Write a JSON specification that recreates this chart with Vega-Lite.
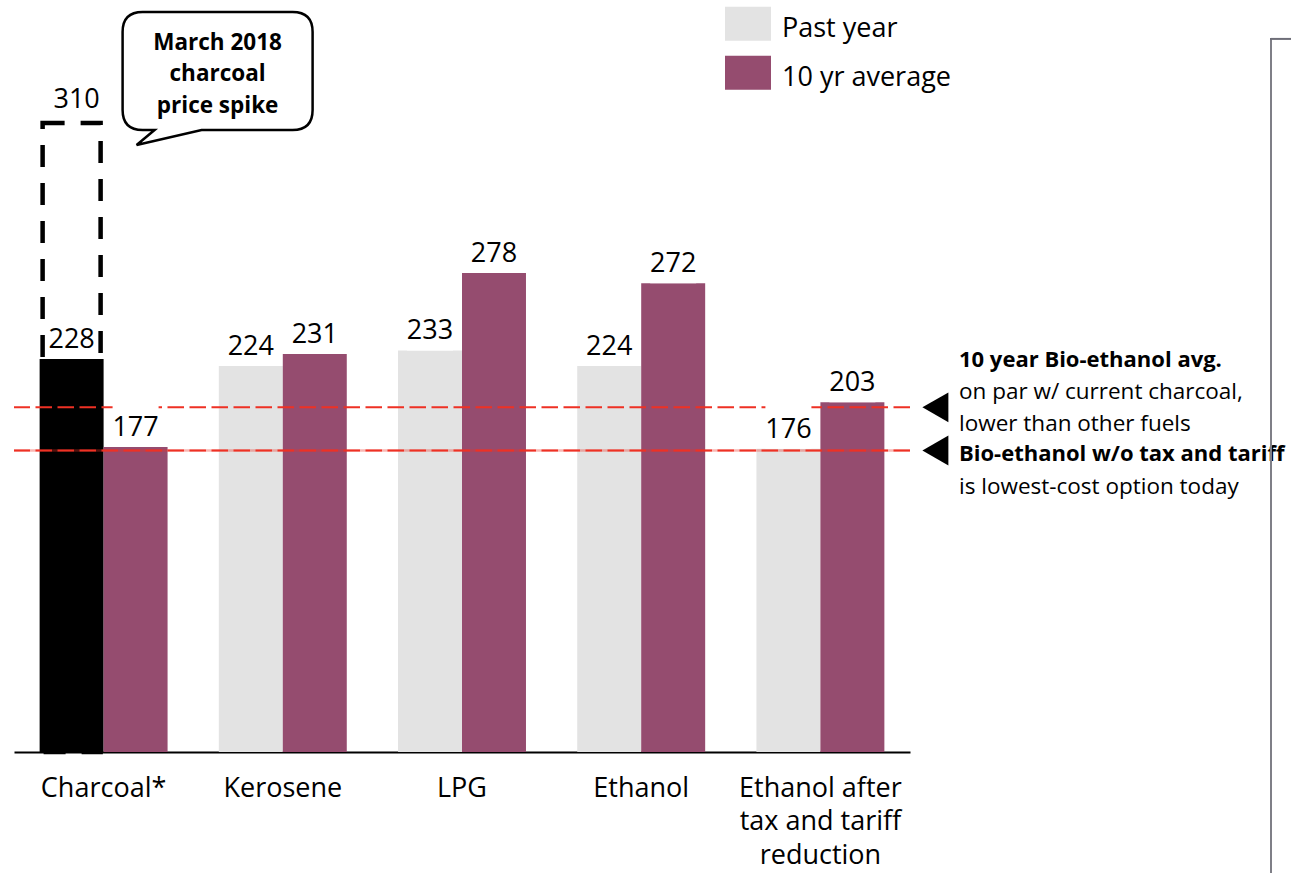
{
  "$schema": "https://vega.github.io/schema/vega-lite/v6.json",
  "width": 896,
  "height": 741,
  "autosize": {"type": "none"},
  "padding": {"left": 14, "top": 11, "right": 381, "bottom": 121},
  "background": "white",
  "config": {
    "view": {"stroke": null},
    "font": "Open Sans",
    "axisY": {"disable": true},
    "axisX": {
      "domainColor": "#000000",
      "domainWidth": 2,
      "ticks": false,
      "tickSize": 0,
      "grid": false,
      "labelFont": "Open Sans",
      "labelFontSize": 27,
      "labelColor": "#000000",
      "labelPadding": 23,
      "labelLineHeight": 33.5,
      "labelLimit": 0,
      "labelAngle": 0
    }
  },
  "datasets": {
    "bars": [
      {"fuel": "Charcoal*", "series": "Past year", "value": 228},
      {"fuel": "Charcoal*", "series": "10 yr average", "value": 177},
      {"fuel": "Kerosene", "series": "Past year", "value": 224},
      {"fuel": "Kerosene", "series": "10 yr average", "value": 231},
      {"fuel": "LPG", "series": "Past year", "value": 233},
      {"fuel": "LPG", "series": "10 yr average", "value": 278},
      {"fuel": "Ethanol", "series": "Past year", "value": 224},
      {"fuel": "Ethanol", "series": "10 yr average", "value": 272},
      {"fuel": "Ethanol after tax and tariff reduction", "series": "Past year", "value": 176},
      {"fuel": "Ethanol after tax and tariff reduction", "series": "10 yr average", "value": 203}
    ],
    "spike": [
      {"fuel": "Charcoal*", "series": "Past year", "label": "310", "box_top": 365}
    ],
    "refs": [
      {"line": "10 year Bio-ethanol avg.", "value": 200},
      {"line": "Bio-ethanol w/o tax and tariff", "value": 175}
    ],
    "one": [{}]
  },
  "layer": [
    {
      "data": {"name": "spike"},
      "mark": {"type": "bar", "fillOpacity": 0, "stroke": "#000000", "strokeWidth": 4.5, "strokeDash": [22, 16], "width": 58, "xOffset": -1},
      "encoding": {
        "x": {"field": "fuel", "type": "nominal", "title": null, "scale": {"domain": ["Charcoal*", "Kerosene", "LPG", "Ethanol", "Ethanol after tax and tariff reduction"], "paddingInner": 0.286, "paddingOuter": 0.143}},
        "xOffset": {"field": "series", "type": "nominal", "scale": {"domain": ["Past year", "10 yr average"], "paddingInner": 0, "paddingOuter": 0}},
        "y": {"field": "box_top", "type": "quantitative", "scale": {"domain": [0, 430], "nice": false, "zero": true}, "axis": null}
      }
    },
    {
      "data": {"name": "bars"},
      "mark": {"type": "bar"},
      "encoding": {
        "x": {"field": "fuel", "type": "nominal", "title": null, "scale": {"domain": ["Charcoal*", "Kerosene", "LPG", "Ethanol", "Ethanol after tax and tariff reduction"], "paddingInner": 0.286, "paddingOuter": 0.143},
          "axis": {"title": null, "labelExpr": "datum.value == 'Ethanol after tax and tariff reduction' ? ['Ethanol after', 'tax and tariff', 'reduction'] : datum.label"}},
        "xOffset": {"field": "series", "type": "nominal", "scale": {"domain": ["Past year", "10 yr average"], "paddingInner": 0, "paddingOuter": 0}},
        "y": {"field": "value", "type": "quantitative", "scale": {"domain": [0, 430], "nice": false, "zero": true}, "axis": null},
        "color": {
          "field": "series",
          "type": "nominal",
          "scale": {"domain": ["Past year", "10 yr average"], "range": ["#E3E3E3", "#954C6F"]},
          "condition": {"test": "datum.fuel === 'Charcoal*' && datum.series === 'Past year'", "value": "#000000"},
          "legend": {
            "orient": "none",
            "legendX": 711,
            "legendY": -5.4,
            "title": null,
            "padding": 0,
            "symbolType": "M-1,-0.95H1V0.53H-1Z",
            "symbolSize": 2116,
            "symbolStrokeWidth": 0,
            "symbolOpacity": 1,
            "labelFont": "Open Sans",
            "labelFontSize": 27,
            "labelColor": "#000000",
            "labelOffset": 11,
            "labelLimit": 0,
            "rowPadding": 13
          }
        }
      }
    },
    {
      "data": {"name": "refs"},
      "transform": [{"filter": "datum.value < 190"}],
      "mark": {"type": "rule", "color": "#EE3124", "opacity": 0.35, "strokeWidth": 2.5},
      "encoding": {
        "y": {"field": "value", "type": "quantitative", "scale": {"domain": [0, 430], "nice": false, "zero": true}, "axis": null}
      }
    },
    {
      "data": {"name": "refs"},
      "mark": {"type": "rule", "color": "#EE3124", "strokeWidth": 2, "strokeDash": [16.5, 5.5]},
      "encoding": {
        "y": {"field": "value", "type": "quantitative", "scale": {"domain": [0, 430], "nice": false, "zero": true}, "axis": null}
      }
    },
    {
      "data": {"name": "bars"},
      "mark": {"type": "bar", "color": "#FFFFFF", "width": 46, "y2Offset": -44},
      "encoding": {
        "x": {"field": "fuel", "type": "nominal", "title": null, "scale": {"domain": ["Charcoal*", "Kerosene", "LPG", "Ethanol", "Ethanol after tax and tariff reduction"], "paddingInner": 0.286, "paddingOuter": 0.143}},
        "xOffset": {"field": "series", "type": "nominal", "scale": {"domain": ["Past year", "10 yr average"], "paddingInner": 0, "paddingOuter": 0}},
        "y": {"field": "value", "type": "quantitative", "scale": {"domain": [0, 430], "nice": false, "zero": true}, "axis": null},
        "y2": {"field": "value"}
      }
    },
    {
      "data": {"name": "bars"},
      "mark": {"type": "text", "baseline": "alphabetic", "align": "center", "dy": -11, "font": "Open Sans", "fontSize": 27, "color": "#000000"},
      "encoding": {
        "x": {"field": "fuel", "type": "nominal", "title": null, "scale": {"domain": ["Charcoal*", "Kerosene", "LPG", "Ethanol", "Ethanol after tax and tariff reduction"], "paddingInner": 0.286, "paddingOuter": 0.143}},
        "xOffset": {"field": "series", "type": "nominal", "scale": {"domain": ["Past year", "10 yr average"], "paddingInner": 0, "paddingOuter": 0}},
        "y": {"field": "value", "type": "quantitative", "scale": {"domain": [0, 430], "nice": false, "zero": true}, "axis": null},
        "text": {"field": "value", "type": "quantitative", "format": "d"}
      }
    },
    {
      "data": {"name": "spike"},
      "mark": {"type": "text", "baseline": "alphabetic", "align": "center", "dy": -15, "dx": 5, "font": "Open Sans", "fontSize": 27, "color": "#000000"},
      "encoding": {
        "x": {"field": "fuel", "type": "nominal", "title": null, "scale": {"domain": ["Charcoal*", "Kerosene", "LPG", "Ethanol", "Ethanol after tax and tariff reduction"], "paddingInner": 0.286, "paddingOuter": 0.143}},
        "xOffset": {"field": "series", "type": "nominal", "scale": {"domain": ["Past year", "10 yr average"], "paddingInner": 0, "paddingOuter": 0}},
        "y": {"field": "box_top", "type": "quantitative", "scale": {"domain": [0, 430], "nice": false, "zero": true}, "axis": null},
        "text": {"field": "label", "type": "nominal"}
      }
    },
    {
      "data": {"name": "one"},
      "mark": {
        "type": "point",
        "shape": "M-0.75,-0.59H0.75Q0.95,-0.59 0.95,-0.39V0.39Q0.95,0.59 0.75,0.59H-0.16L-0.81,0.74L-0.63,0.59H-0.75Q-0.95,0.59 -0.95,0.39V-0.39Q-0.95,-0.59 -0.75,-0.59Z",
        "size": 40000,
        "filled": true,
        "fill": "#FFFFFF",
        "stroke": "#000000",
        "strokeWidth": 2.5,
        "opacity": 1,
        "fillOpacity": 1,
        "strokeOpacity": 1,
        "xOffset": 114
      },
      "encoding": {
        "x": {"datum": "Charcoal*", "type": "nominal", "scale": {"domain": ["Charcoal*", "Kerosene", "LPG", "Ethanol", "Ethanol after tax and tariff reduction"], "paddingInner": 0.286, "paddingOuter": 0.143}},
        "y": {"datum": 395.2, "type": "quantitative", "scale": {"domain": [0, 430], "nice": false, "zero": true}, "axis": null}
      }
    },
    {
      "data": {"name": "one"},
      "mark": {"type": "text", "align": "center", "baseline": "alphabetic", "dx": 114, "font": "Open Sans", "fontSize": 22.5, "fontWeight": "bold", "lineHeight": 31.5, "color": "#000000"},
      "encoding": {
        "x": {"datum": "Charcoal*", "type": "nominal", "scale": {"domain": ["Charcoal*", "Kerosene", "LPG", "Ethanol", "Ethanol after tax and tariff reduction"], "paddingInner": 0.286, "paddingOuter": 0.143}},
        "y": {"datum": 407.4, "type": "quantitative", "scale": {"domain": [0, 430], "nice": false, "zero": true}, "axis": null},
        "text": {"value": ["March 2018", "charcoal", "price spike"]}
      }
    },
    {
      "data": {"name": "refs"},
      "mark": {"type": "point", "shape": "M-1,0L1,-1.15L1,1.15Z", "size": 676, "filled": true, "color": "#000000", "opacity": 1, "strokeWidth": 0, "xOffset": 115},
      "encoding": {
        "x": {"datum": "Ethanol after tax and tariff reduction", "type": "nominal", "scale": {"domain": ["Charcoal*", "Kerosene", "LPG", "Ethanol", "Ethanol after tax and tariff reduction"], "paddingInner": 0.286, "paddingOuter": 0.143}},
        "y": {"field": "value", "type": "quantitative", "scale": {"domain": [0, 430], "nice": false, "zero": true}, "axis": null}
      }
    },
    {
      "data": {"name": "one"},
      "mark": {"type": "text", "align": "left", "baseline": "alphabetic", "dx": 138.6, "dy": -40, "font": "Open Sans", "fontSize": 22, "fontWeight": "bold", "color": "#000000"},
      "encoding": {
        "x": {"datum": "Ethanol after tax and tariff reduction", "type": "nominal", "scale": {"domain": ["Charcoal*", "Kerosene", "LPG", "Ethanol", "Ethanol after tax and tariff reduction"], "paddingInner": 0.286, "paddingOuter": 0.143}},
        "y": {"datum": 200, "type": "quantitative", "scale": {"domain": [0, 430], "nice": false, "zero": true}, "axis": null},
        "text": {"value": "10 year Bio-ethanol avg."}
      }
    },
    {
      "data": {"name": "one"},
      "mark": {"type": "text", "align": "left", "baseline": "alphabetic", "dx": 138.6, "dy": -8, "lineHeight": 32, "font": "Open Sans", "fontSize": 22.5, "color": "#000000"},
      "encoding": {
        "x": {"datum": "Ethanol after tax and tariff reduction", "type": "nominal", "scale": {"domain": ["Charcoal*", "Kerosene", "LPG", "Ethanol", "Ethanol after tax and tariff reduction"], "paddingInner": 0.286, "paddingOuter": 0.143}},
        "y": {"datum": 200, "type": "quantitative", "scale": {"domain": [0, 430], "nice": false, "zero": true}, "axis": null},
        "text": {"value": ["on par w/ current charcoal,", "lower than other fuels"]}
      }
    },
    {
      "data": {"name": "one"},
      "mark": {"type": "text", "align": "left", "baseline": "alphabetic", "dx": 138.6, "dy": 11, "font": "Open Sans", "fontSize": 22, "fontWeight": "bold", "color": "#000000"},
      "encoding": {
        "x": {"datum": "Ethanol after tax and tariff reduction", "type": "nominal", "scale": {"domain": ["Charcoal*", "Kerosene", "LPG", "Ethanol", "Ethanol after tax and tariff reduction"], "paddingInner": 0.286, "paddingOuter": 0.143}},
        "y": {"datum": 175, "type": "quantitative", "scale": {"domain": [0, 430], "nice": false, "zero": true}, "axis": null},
        "text": {"value": "Bio-ethanol w/o tax and tariff"}
      }
    },
    {
      "data": {"name": "one"},
      "mark": {"type": "text", "align": "left", "baseline": "alphabetic", "dx": 138.6, "dy": 44, "font": "Open Sans", "fontSize": 22.5, "color": "#000000"},
      "encoding": {
        "x": {"datum": "Ethanol after tax and tariff reduction", "type": "nominal", "scale": {"domain": ["Charcoal*", "Kerosene", "LPG", "Ethanol", "Ethanol after tax and tariff reduction"], "paddingInner": 0.286, "paddingOuter": 0.143}},
        "y": {"datum": 175, "type": "quantitative", "scale": {"domain": [0, 430], "nice": false, "zero": true}, "axis": null},
        "text": {"value": "is lowest-cost option today"}
      }
    },
    {
      "data": {"name": "one"},
      "mark": {"type": "rule", "color": "#7F7F87", "strokeWidth": 2, "xOffset": 450.6},
      "encoding": {
        "x": {"datum": "Ethanol after tax and tariff reduction", "type": "nominal", "scale": {"domain": ["Charcoal*", "Kerosene", "LPG", "Ethanol", "Ethanol after tax and tariff reduction"], "paddingInner": 0.286, "paddingOuter": 0.143}},
        "y": {"datum": 413.8, "type": "quantitative", "scale": {"domain": [0, 430], "nice": false, "zero": true}, "axis": null},
        "y2": {"datum": -71}
      }
    },
    {
      "data": {"name": "one"},
      "mark": {"type": "rule", "color": "#6E6E78", "strokeWidth": 2, "xOffset": 449.6, "x2Offset": 470.6},
      "encoding": {
        "x": {"datum": "Ethanol after tax and tariff reduction", "type": "nominal", "scale": {"domain": ["Charcoal*", "Kerosene", "LPG", "Ethanol", "Ethanol after tax and tariff reduction"], "paddingInner": 0.286, "paddingOuter": 0.143}},
        "x2": {"datum": "Ethanol after tax and tariff reduction"},
        "y": {"datum": 413.8, "type": "quantitative", "scale": {"domain": [0, 430], "nice": false, "zero": true}, "axis": null}
      }
    }
  ]
}
